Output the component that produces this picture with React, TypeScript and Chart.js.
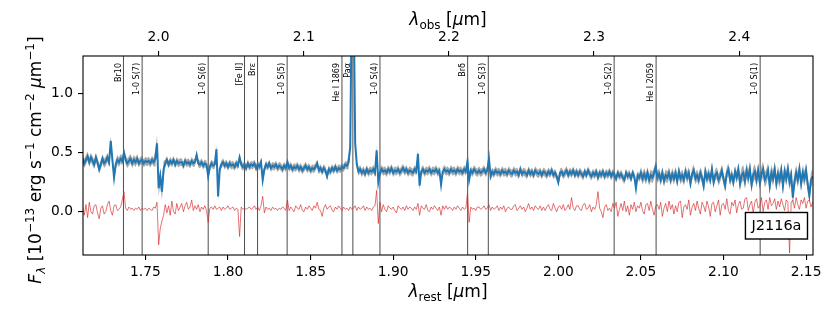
import React, { useEffect, useRef } from 'react';
import { Chart, registerables } from 'chart.js';

Chart.register(...registerables);

// ---------------- data ----------------
const REDSHIFT = 0.1377;
const WL_START = 1.712; // rest wavelength of first sample [um]
const WL_STEP = 0.001; // sample spacing [um]
const X_MIN = 1.7122;
const X_MAX = 2.1542;
const Y_MIN = -0.367;
const Y_MAX = 1.32;
const REST_TICKS = [1.75, 1.8, 1.85, 1.9, 1.95, 2.0, 2.05, 2.1, 2.15];
const OBS_TICKS = [2.0, 2.1, 2.2, 2.3, 2.4];
const Y_TICKS = [0, 0.5, 1.0];

// flux density, 10^-13 erg/s/cm2/um, one value per WL_STEP
const FLUX = [
  0.45, 0.41, 0.44, 0.47, 0.42, 0.46, 0.43, 0.40, 0.46, 0.42, 0.36, 0.40, 0.45, 0.41, 0.43, 0.46, 0.42, 0.60, 0.44, 0.29,
  0.40, 0.44, 0.42, 0.45, 0.43, 0.50, 0.44, 0.41, 0.43, 0.45, 0.41, 0.44, 0.42, 0.45, 0.41, 0.43, 0.44, 0.41, 0.43, 0.42,
  0.43, 0.41, 0.44, 0.42, 0.45, 0.58, 0.20, 0.30, 0.17, 0.36, 0.41, 0.44, 0.40, 0.43, 0.41, 0.44, 0.40, 0.43, 0.41, 0.42,
  0.42, 0.39, 0.43, 0.41, 0.42, 0.40, 0.43, 0.41, 0.42, 0.48, 0.41, 0.40, 0.42, 0.39, 0.41, 0.40, 0.30, 0.38, 0.41, 0.39,
  0.40, 0.53, 0.13, 0.36, 0.40, 0.42, 0.39, 0.41, 0.38, 0.41, 0.39, 0.40, 0.38, 0.41, 0.39, 0.46, 0.40, 0.38, 0.40, 0.37,
  0.41, 0.38, 0.40, 0.39, 0.41, 0.37, 0.40, 0.38, 0.42, 0.27, 0.36, 0.40, 0.38, 0.41, 0.37, 0.39, 0.38, 0.40, 0.37, 0.39,
  0.38, 0.36, 0.39, 0.37, 0.42, 0.37, 0.39, 0.36, 0.38, 0.37, 0.39, 0.36, 0.38, 0.35, 0.37, 0.39, 0.36, 0.38, 0.35, 0.37,
  0.36, 0.38, 0.41, 0.35, 0.37, 0.34, 0.37, 0.35, 0.30, 0.36, 0.34, 0.37, 0.35, 0.38, 0.35, 0.37, 0.36, 0.38, 0.37, 0.40,
  0.39, 0.42, 0.55, 1.90, 1.90, 0.58, 0.40, 0.34, 0.36, 0.33, 0.35, 0.32, 0.36, 0.33, 0.35, 0.34, 0.36, 0.33, 0.52, 0.25,
  0.33, 0.36, 0.34, 0.35, 0.33, 0.36, 0.34, 0.37, 0.33, 0.35, 0.34, 0.36, 0.33, 0.35, 0.37, 0.34, 0.36, 0.33, 0.35, 0.34,
  0.33, 0.36, 0.34, 0.49, 0.22, 0.34, 0.36, 0.33, 0.35, 0.34, 0.36, 0.33, 0.35, 0.34, 0.36, 0.33, 0.35, 0.23, 0.34, 0.36,
  0.34, 0.35, 0.33, 0.36, 0.34, 0.35, 0.33, 0.36, 0.34, 0.35, 0.33, 0.36, 0.34, 0.43, 0.27, 0.35, 0.33, 0.36, 0.34, 0.33,
  0.35, 0.33, 0.34, 0.36, 0.33, 0.35, 0.45, 0.30, 0.34, 0.32, 0.35, 0.33, 0.34, 0.32, 0.35, 0.33, 0.34, 0.32, 0.35, 0.33,
  0.32, 0.35, 0.33, 0.34, 0.31, 0.36, 0.32, 0.34, 0.33, 0.31, 0.35, 0.32, 0.34, 0.31, 0.35, 0.33, 0.32, 0.34, 0.31, 0.34,
  0.33, 0.31, 0.34, 0.32, 0.35, 0.31, 0.33, 0.30, 0.25, 0.33, 0.34, 0.31, 0.33, 0.35, 0.31, 0.34, 0.32, 0.35, 0.31, 0.34,
  0.31, 0.34, 0.32, 0.30, 0.34, 0.31, 0.35, 0.32, 0.30, 0.33, 0.31, 0.34, 0.29, 0.33, 0.31, 0.34, 0.30, 0.33, 0.31, 0.34,
  0.30, 0.33, 0.31, 0.28, 0.33, 0.30, 0.32, 0.29, 0.27, 0.33, 0.30, 0.32, 0.28, 0.33, 0.30, 0.20, 0.31, 0.29, 0.33, 0.28,
  0.32, 0.28, 0.33, 0.27, 0.31, 0.29, 0.33, 0.38, 0.29, 0.32, 0.27, 0.33, 0.26, 0.31, 0.29, 0.33, 0.27, 0.32, 0.28, 0.33,
  0.26, 0.34, 0.28, 0.31, 0.27, 0.34, 0.29, 0.33, 0.24, 0.32, 0.35, 0.28, 0.31, 0.27, 0.33, 0.29, 0.22, 0.34, 0.28, 0.32,
  0.27, 0.36, 0.25, 0.31, 0.33, 0.27, 0.30, 0.35, 0.28, 0.22, 0.33, 0.36, 0.27, 0.31, 0.25, 0.34, 0.29, 0.36, 0.24, 0.31,
  0.33, 0.26, 0.35, 0.29, 0.36, 0.23, 0.31, 0.34, 0.27, 0.35, 0.25, 0.32, 0.36, 0.27, 0.30, 0.35, 0.22, 0.33, 0.28, 0.36,
  0.24, 0.32, 0.27, 0.35, 0.22, 0.34, 0.28, 0.36, 0.25, 0.31, 0.12, 0.26, 0.33, 0.27, 0.36, 0.24, 0.33, 0.28, 0.35, 0.23,
  0.14, 0.27, 0.30,
];

// fit residual, same sampling
const RESIDUAL = [
  0.04, -0.03, 0.06, -0.05, 0.08, 0.00, -0.02, 0.05, 0.06, -0.01, -0.06, 0.03, 0.05, -0.02, 0.00, 0.06, 0.09, 0.01, -0.03, 0.05,
  0.06, 0.01, 0.02, 0.04, 0.10, 0.17, 0.03, 0.01, 0.04, 0.02, 0.03, 0.01, 0.03, 0.02, 0.04, 0.01, 0.03, 0.02, 0.03, 0.01,
  0.03, 0.02, 0.01, 0.04, 0.03, 0.08, -0.28, -0.14, -0.08, -0.03, 0.06, -0.01, 0.05, -0.03, 0.09, 0.00, -0.02, 0.07, 0.01, 0.04,
  0.07, 0.00, 0.05, 0.08, 0.02, 0.04, 0.10, 0.01, 0.05, 0.02, 0.06, 0.00, 0.04, 0.02, 0.05, 0.01, -0.09, 0.03, 0.04, 0.02,
  0.05, 0.02, 0.03, 0.04, 0.01, 0.04, 0.02, 0.03, 0.05, 0.02, 0.03, 0.04, 0.01, 0.03, 0.02, -0.21, 0.04, 0.02, 0.03, 0.02,
  0.03, 0.04, 0.02, 0.03, 0.05, 0.02, 0.04, 0.01, 0.05, 0.13, -0.01, 0.04, 0.02, 0.03, 0.01, 0.04, 0.02, 0.03, 0.01, 0.03,
  0.02, 0.04, 0.03, 0.01, 0.10, 0.01, 0.04, 0.02, 0.00, 0.05, 0.03, 0.02, 0.06, 0.01, 0.00, 0.04, 0.02, 0.05, 0.03, 0.01,
  0.05, 0.03, 0.08, 0.02, 0.01, -0.04, 0.03, 0.06, 0.02, 0.04, 0.05, 0.01, 0.00, 0.04, 0.02, 0.05, 0.03, 0.01, 0.04, 0.02,
  0.03, 0.01, 0.04, 0.02, 0.03, 0.05, 0.01, 0.04, 0.02, 0.03, 0.05, 0.01, 0.04, 0.02, 0.03, 0.01, 0.04, 0.05, 0.18, -0.10,
  0.08, 0.00, 0.06, 0.02, 0.00, 0.05, 0.03, 0.02, 0.04, 0.01, -0.01, 0.05, 0.03, 0.02, 0.04, 0.01, 0.05, 0.02, 0.04, 0.03,
  0.01, 0.04, 0.02, 0.07, -0.03, 0.05, 0.03, 0.02, 0.06, 0.01, 0.00, 0.04, 0.02, 0.05, 0.03, 0.01, 0.04, -0.03, 0.05, 0.02,
  0.05, 0.02, 0.04, 0.03, 0.01, 0.04, 0.02, 0.05, 0.03, 0.01, 0.04, 0.02, 0.03, 0.16, -0.09, 0.04, 0.02, 0.03, 0.01, 0.04,
  0.04, 0.02, 0.03, 0.05, 0.02, 0.03, 0.06, 0.01, 0.04, 0.02, 0.03, 0.05, 0.01, 0.04, 0.02, 0.05, 0.00, 0.03, 0.04, 0.02,
  0.02, 0.05, 0.06, 0.01, 0.03, 0.05, 0.02, 0.04, 0.00, 0.03, 0.07, 0.02, 0.04, 0.01, 0.05, 0.03, 0.02, 0.05, 0.01, 0.04,
  0.01, 0.04, 0.06, 0.02, 0.01, 0.07, 0.03, 0.00, 0.04, 0.05, 0.02, 0.06, 0.01, 0.03, 0.06, 0.02, 0.12, 0.03, 0.01, 0.05,
  0.05, 0.02, 0.01, 0.06, 0.07, 0.02, 0.03, 0.06, 0.00, 0.04, 0.02, 0.06, 0.17, 0.03, 0.00, -0.05, 0.04, 0.06, 0.01, 0.03,
  0.00, 0.07, 0.03, 0.08, -0.04, 0.02, 0.07, 0.01, 0.09, 0.00, 0.05, -0.03, 0.06, 0.02, 0.08, 0.00, 0.05, 0.03, 0.08, 0.01,
  -0.02, 0.06, 0.07, 0.01, 0.09, 0.02, -0.03, 0.05, 0.06, 0.02, 0.08, -0.04, 0.03, 0.07, 0.00, 0.09, 0.02, 0.06, -0.02, 0.05,
  0.00, 0.08, 0.09, -0.05, 0.04, 0.06, 0.02, 0.10, -0.03, 0.04, 0.07, 0.01, 0.09, 0.03, -0.02, 0.08, 0.05, 0.00, 0.09, 0.04,
  -0.04, 0.07, 0.08, 0.00, 0.05, 0.10, -0.03, 0.06, 0.07, 0.02, 0.11, 0.01, -0.02, 0.08, 0.05, 0.10, -0.01, 0.06, 0.09, 0.02,
  0.03, 0.11, 0.12, 0.01, 0.06, 0.09, -0.01, 0.08, 0.11, 0.03, 0.05, 0.12, 0.00, 0.08, 0.10, 0.02, 0.12, 0.05, 0.07, 0.11,
  0.02, 0.09, 0.04, 0.11, 0.06, 0.01, 0.10, 0.08, -0.35, 0.08, 0.10, 0.03, 0.12, 0.06, 0.02, 0.10, 0.07, 0.12, 0.03, 0.09,
  0.10, 0.04, 0.08,
];

// 1-sigma flux uncertainty, constant within wavelength bands
const ERR_EDGES = [1.712, 1.745, 1.756, 1.762, 1.873, 1.878, 2.05, 2.11, 2.155];
const ERR_LEVELS = [0.04, 0.035, 0.07, 0.033, 0.06, 0.035, 0.05, 0.065];

const LINE_WL = [
  1.7367, 1.748, 1.788, 1.81, 1.8179, 1.8358, 1.869, 1.8756, 1.892,
  1.9451, 1.9576, 2.0338, 2.0592, 2.1222,
];
const LINE_LABELS = [
  'Br10', '1-0 S(7)', '1-0 S(6)', '[Fe II]', 'Brε', '1-0 S(5)', 'He I 1869',
  'Paα', '1-0 S(4)', 'Brδ', '1-0 S(3)', '1-0 S(2)', 'He I 2059', '1-0 S(1)',
];
const TARGET = 'J2116a';

// ---------------- drawing helpers ----------------
const FAMILY = '"DejaVu Sans", sans-serif';
type Seg = { t: string; s: number; it?: boolean; dy?: number };
const segFont = (g: Seg) => `${g.it ? 'italic ' : ''}${g.s}px ${FAMILY}`;

function drawRich(ctx: CanvasRenderingContext2D, segs: Seg[], cx: number, by: number) {
  let w = 0;
  segs.forEach((g) => {
    ctx.font = segFont(g);
    w += ctx.measureText(g.t).width;
  });
  let xx = cx - w / 2;
  ctx.textAlign = 'left';
  ctx.textBaseline = 'alphabetic';
  segs.forEach((g) => {
    ctx.font = segFont(g);
    ctx.fillText(g.t, xx, by + (g.dy || 0));
    xx += ctx.measureText(g.t).width;
  });
}

const T = 17;
const S = 12;
const TITLE_BOTTOM: Seg[] = [
  { t: 'λ', s: T, it: true }, { t: 'rest', s: S, dy: 3.5 }, { t: ' [', s: T },
  { t: 'μ', s: T, it: true }, { t: 'm]', s: T },
];
const TITLE_TOP: Seg[] = [
  { t: 'λ', s: T, it: true }, { t: 'obs', s: S, dy: 3.5 }, { t: ' [', s: T },
  { t: 'μ', s: T, it: true }, { t: 'm]', s: T },
];
const TITLE_LEFT: Seg[] = [
  { t: 'F', s: T, it: true }, { t: 'λ', s: S, it: true, dy: 3.5 }, { t: ' [10', s: T },
  { t: '−13', s: S, dy: -7 }, { t: ' erg s', s: T }, { t: '−1', s: S, dy: -7 },
  { t: ' cm', s: T }, { t: '−2', s: S, dy: -7 }, { t: ' ', s: T },
  { t: 'μ', s: T, it: true }, { t: 'm', s: T }, { t: '−1', s: S, dy: -7 }, { t: ']', s: T },
];

const overlayPlugin = {
  id: 'overlay',
  beforeDatasetsDraw(chart: any) {
    const { ctx, chartArea: a, scales } = chart;
    const x = scales.x;
    ctx.save();
    ctx.beginPath();
    ctx.rect(a.left, a.top, a.right - a.left, a.bottom - a.top);
    ctx.clip();
    ctx.strokeStyle = 'rgba(0,0,0,0.7)';
    ctx.lineWidth = 1;
    LINE_WL.forEach((w) => {
      const px = x.getPixelForValue(w);
      ctx.beginPath();
      ctx.moveTo(px, a.top);
      ctx.lineTo(px, a.bottom);
      ctx.stroke();
    });
    ctx.restore();
  },
  afterDatasetsDraw(chart: any) {
    const { ctx, chartArea: a, scales } = chart;
    const x = scales.x;
    ctx.save();
    // line labels
    ctx.fillStyle = '#000';
    ctx.font = `8px ${FAMILY}`;
    LINE_WL.forEach((w, i) => {
      const px = x.getPixelForValue(w);
      ctx.save();
      ctx.translate(px - 1, a.top + 7);
      ctx.rotate(-Math.PI / 2);
      ctx.textAlign = 'right';
      ctx.textBaseline = 'bottom';
      ctx.fillText(LINE_LABELS[i], 0, 0);
      ctx.restore();
    });
    // target box
    ctx.font = `14.5px ${FAMILY}`;
    const tw = ctx.measureText(TARGET).width;
    const bw = tw + 12;
    const bh = 26.5;
    const bx = a.right - 5.5 - bw;
    const by = a.bottom - 16 - bh;
    ctx.fillStyle = '#fff';
    ctx.fillRect(bx, by, bw, bh);
    ctx.strokeStyle = '#000';
    ctx.lineWidth = 1.4;
    ctx.strokeRect(bx, by, bw, bh);
    ctx.fillStyle = '#000';
    ctx.textAlign = 'center';
    ctx.textBaseline = 'middle';
    ctx.fillText(TARGET, bx + bw / 2, by + bh / 2 + 0.5);
    // frame
    ctx.strokeStyle = '#000';
    ctx.lineWidth = 1.1;
    ctx.strokeRect(a.left, a.top, a.right - a.left, a.bottom - a.top);
    ctx.restore();
  },
  afterDraw(chart: any) {
    const { ctx, chartArea: a } = chart;
    const cx = (a.left + a.right) / 2;
    ctx.save();
    ctx.fillStyle = '#000';
    drawRich(ctx, TITLE_BOTTOM, cx, 297);
    drawRich(ctx, TITLE_TOP, cx, 25);
    ctx.translate(41, 160);
    ctx.rotate(-Math.PI / 2);
    drawRich(ctx, TITLE_LEFT, 0, 0);
    ctx.restore();
  },
};

function errAt(w: number): number {
  for (let k = 0; k < ERR_LEVELS.length; k++) {
    if (w < ERR_EDGES[k + 1]) return ERR_LEVELS[k];
  }
  return ERR_LEVELS[ERR_LEVELS.length - 1];
}

export default function App() {
  const ref = useRef<HTMLCanvasElement | null>(null);
  useEffect(() => {
    if (!ref.current) return;
    const wl = FLUX.map((_, i) => WL_START + i * WL_STEP);
    const pts = (arr: number[]) => arr.map((v, i) => ({ x: wl[i], y: v }));
    const upper = FLUX.map((v, i) => v + errAt(wl[i]));
    const lower = FLUX.map((v, i) => v - errAt(wl[i]));
    const tickFont = { family: FAMILY, size: 13.8 };
    const chart = new Chart(ref.current, {
      type: 'line',
      data: {
        datasets: [
          {
            label: 'flux',
            data: pts(FLUX),
            borderColor: '#1f77b4',
            borderWidth: 2,
            pointRadius: 0,
            fill: false,
            tension: 0,
          },
          {
            label: 'residual',
            data: pts(RESIDUAL),
            borderColor: 'rgba(214,39,40,0.72)',
            borderWidth: 0.9,
            pointRadius: 0,
            fill: false,
            tension: 0,
          },
          {
            label: 'err+',
            data: pts(upper),
            borderWidth: 0,
            borderColor: 'rgba(0,0,0,0)',
            pointRadius: 0,
            fill: '+1',
            backgroundColor: 'rgba(100,100,100,0.55)',
            tension: 0,
          },
          {
            label: 'err-',
            data: pts(lower),
            borderWidth: 0,
            borderColor: 'rgba(0,0,0,0)',
            pointRadius: 0,
            fill: false,
            tension: 0,
          },
        ],
      },
      options: {
        animation: false,
        responsive: false,
        devicePixelRatio: 1,
        layout: { padding: { left: 0, right: 17, top: 0, bottom: 0 } },
        plugins: { legend: { display: false }, tooltip: { enabled: false } },
        scales: {
          x: {
            type: 'linear',
            position: 'bottom',
            min: X_MIN,
            max: X_MAX,
            afterFit: (s: any) => { s.height = 57; },
            afterBuildTicks: (s: any) => { s.ticks = REST_TICKS.map((v) => ({ value: v })); },
            ticks: {
              font: tickFont, color: '#000', padding: 4, maxRotation: 0, autoSkip: false,
              callback: (v: any) => Number(v).toFixed(2),
            },
            grid: { drawOnChartArea: false, drawTicks: true, tickLength: 5, color: '#000', lineWidth: 1.1 },
            border: { display: false },
          },
          x2: {
            type: 'linear',
            position: 'top',
            min: X_MIN * (1 + REDSHIFT),
            max: X_MAX * (1 + REDSHIFT),
            afterFit: (s: any) => { s.height = 56; },
            afterBuildTicks: (s: any) => { s.ticks = OBS_TICKS.map((v) => ({ value: v })); },
            ticks: {
              font: tickFont, color: '#000', padding: 5, maxRotation: 0, autoSkip: false,
              callback: (v: any) => Number(v).toFixed(1),
            },
            grid: { drawOnChartArea: false, drawTicks: true, tickLength: 5, color: '#000', lineWidth: 1.1 },
            border: { display: false },
          },
          y: {
            type: 'linear',
            position: 'left',
            min: Y_MIN,
            max: Y_MAX,
            afterFit: (s: any) => { s.width = 83; },
            afterBuildTicks: (s: any) => { s.ticks = Y_TICKS.map((v) => ({ value: v })); },
            ticks: {
              font: tickFont, color: '#000', padding: 5, autoSkip: false,
              callback: (v: any) => Number(v).toFixed(1),
            },
            grid: { drawOnChartArea: false, drawTicks: true, tickLength: 5, color: '#000', lineWidth: 1.1 },
            border: { display: false },
          },
        },
      },
      plugins: [overlayPlugin],
    });
    return () => chart.destroy();
  }, []);
  return (
    <div style={{ position: 'absolute', left: 0, top: 0, width: 830, height: 312, background: '#fff' }}>
      <canvas ref={ref} width={830} height={312} style={{ display: 'block' }} />
    </div>
  );
}
